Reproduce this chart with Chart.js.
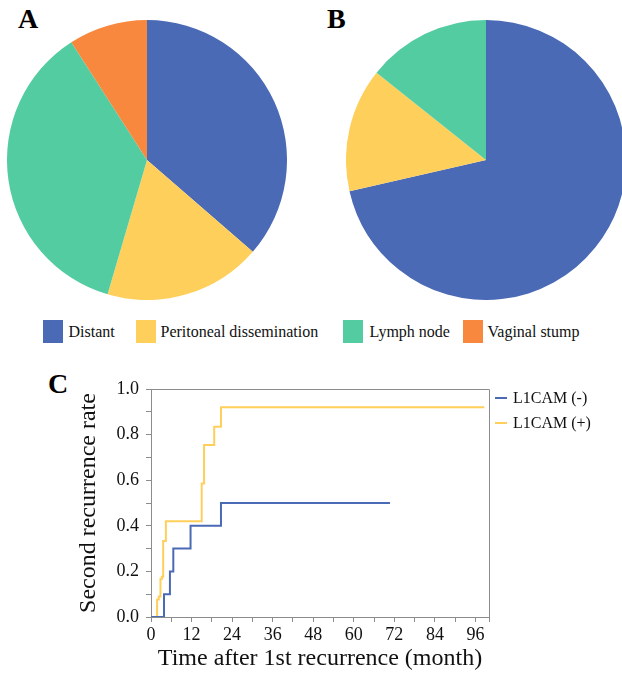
<!DOCTYPE html>
<html><head><meta charset="utf-8">
<script src="https://cdn.jsdelivr.net/npm/chart.js@4.4.1/dist/chart.umd.min.js"></script>
<style>
html,body{margin:0;padding:0;background:#fff;}
body{width:622px;height:676px;position:relative;overflow:hidden;font-family:"Liberation Serif","Times New Roman",serif;color:#000;}
.abs{position:absolute;}
.letter{font-weight:bold;font-size:28px;line-height:28px;}
.sw{position:absolute;width:20px;height:23px;}
.legt{position:absolute;font-family:"Liberation Serif","Times New Roman",serif;font-size:16px;line-height:23px;white-space:nowrap;color:#111;}
.lleg{position:absolute;font-family:"Liberation Serif","Times New Roman",serif;font-size:16px;line-height:20px;display:flex;align-items:center;white-space:nowrap;color:#111;}
.ln{width:12px;height:2px;margin-right:6px;}
</style></head><body>
<div class="abs letter" style="left:18px;top:5px;">A</div>
<div class="abs letter" style="left:327px;top:5px;">B</div>
<div class="abs letter" style="left:48px;top:370px;">C</div>
<div class="abs" style="left:7px;top:20px;width:280px;height:280px;"><canvas id="pieA" width="280" height="280"></canvas></div>
<div class="abs" style="left:346px;top:20px;width:280px;height:280px;"><canvas id="pieB" width="280" height="280"></canvas></div>
<div id="pieLegend"></div>
<div class="abs" style="left:0;top:370px;width:622px;height:306px;"><canvas id="km" width="622" height="306"></canvas></div>
<div id="kmLegend"></div>
<script>
// ---- data ----
const categories = ['Distant', 'Peritoneal dissemination', 'Lymph node', 'Vaginal stump'];
const countsA = [4, 2, 4, 1];
const countsB = [5, 1, 1, 0];
const sliceColors = ['#4a6ab5', '#ffcf5c', '#54cca1', '#f8883e'];

const seriesNames = ['L1CAM (-)', 'L1CAM (+)'];
const seriesColors = ['#4a6ab5', '#ffcf5c'];
const negTimes = [0, 3.85, 5.6, 6.6, 11.7, 20.7, 70.7];
const negRates = [0, 0.1, 0.2, 0.3, 0.4, 0.5, 0.5];
const posTimes = [0, 1.8, 2.3, 2.8, 3.2, 3.6, 4.4, 15.0, 15.7, 18.7, 20.7, 98.6];
const posRates = [0, 0.077, 0.09, 0.167, 0.176, 0.333, 0.42, 0.586, 0.754, 0.834, 0.92, 0.92];

const xTickLabels = [0, 12, 24, 36, 48, 60, 72, 84, 96];
const xMinorTicks = [6, 18, 30, 42, 54, 66, 78, 90, 100];
const yTickLabels = ['0.0', '0.2', '0.4', '0.6', '0.8', '1.0'];

// ---- pies ----
function pie(id, counts) {
  new Chart(document.getElementById(id), {
    type: 'pie',
    data: { labels: categories, datasets: [{ data: counts, backgroundColor: sliceColors, borderWidth: 0 }] },
    options: {
      responsive: false, animation: false, events: [],
      plugins: { legend: { display: false }, tooltip: { enabled: false } },
      layout: { padding: 0 }
    }
  });
}
pie('pieA', countsA);
pie('pieB', countsB);

// pie legend (HTML text)
const legSwLeft = [43, 136, 343, 463];
const legTextLeft = [68.5, 160.5, 369.5, 487.5];
const pl = document.getElementById('pieLegend');
categories.forEach((c, i) => {
  const s = document.createElement('div');
  s.className = 'sw';
  s.style.left = legSwLeft[i] + 'px';
  s.style.top = '319.5px';
  s.style.background = sliceColors[i];
  pl.appendChild(s);
  const t = document.createElement('div');
  t.className = 'legt';
  t.style.left = legTextLeft[i] + 'px';
  t.style.top = '319.5px';
  t.textContent = c;
  pl.appendChild(t);
});

// ---- KM chart ----
const toPts = (xs, ys) => xs.map((x, i) => ({ x: x, y: ys[i] }));
const frame = {
  id: 'frame',
  afterDraw(chart) {
    const { ctx, chartArea: a } = chart;
    ctx.save();
    ctx.strokeStyle = '#8c8c8c';
    ctx.lineWidth = 1;
    ctx.beginPath();
    ctx.moveTo(a.left, a.top + 0.5);
    ctx.lineTo(a.right + 0.5, a.top + 0.5);
    ctx.lineTo(a.right + 0.5, a.bottom);
    ctx.stroke();
    ctx.restore();
  }
};
const serif = '"Liberation Serif","Times New Roman",serif';
new Chart(document.getElementById('km'), {
  type: 'line',
  data: {
    datasets: [
      { label: seriesNames[0], data: toPts(negTimes, negRates), borderColor: seriesColors[0], backgroundColor: seriesColors[0], borderWidth: 2, pointRadius: 0, stepped: 'before', fill: false },
      { label: seriesNames[1], data: toPts(posTimes, posRates), borderColor: seriesColors[1], backgroundColor: seriesColors[1], borderWidth: 2, pointRadius: 0, stepped: 'before', fill: false }
    ]
  },
  options: {
    responsive: false, animation: false, events: [],
    layout: { padding: { left: 0, top: 19, right: 133, bottom: 0 } },
    plugins: { legend: { display: false }, tooltip: { enabled: false } },
    scales: {
      x: {
        type: 'linear', min: 0, max: 100,
        afterFit: s => { s.height = 59; },
        afterBuildTicks: s => {
          s.ticks = xTickLabels.concat(xMinorTicks).sort((a, b) => a - b).map(v => ({ value: v }));
        },
        border: { color: '#8c8c8c', width: 1 },
        grid: { drawOnChartArea: false, drawTicks: true, tickLength: 5, color: '#8c8c8c' },
        ticks: {
          autoSkip: false, maxRotation: 0, minRotation: 0, padding: 2,
          color: '#111', font: { family: serif, size: 18 },
          callback: v => xTickLabels.includes(v) ? String(v) : ''
        },
        title: { display: true, text: 'Time after 1st recurrence (month)', color: '#111', font: { family: serif, size: 24 }, padding: { top: 0, bottom: 3 } }
      },
      y: {
        min: 0, max: 1,
        afterFit: s => { s.width = 151; },
        border: { color: '#8c8c8c', width: 1 },
        grid: { drawOnChartArea: false, drawTicks: true, tickLength: 5, color: '#8c8c8c' },
        ticks: {
          stepSize: 0.1, autoSkip: false, padding: 7,
          color: '#111', font: { family: serif, size: 18 },
          callback: v => { const s = v.toFixed(1); return yTickLabels.includes(s) ? s : ''; }
        },
        title: { display: true, text: 'Second recurrence rate', color: '#111', font: { family: serif, size: 24 }, padding: { top: 74.6, bottom: 0 } }
      }
    }
  },
  plugins: [frame]
});

// KM legend (HTML text)
const kl = document.getElementById('kmLegend');
seriesNames.forEach((n, i) => {
  const d = document.createElement('div');
  d.className = 'lleg';
  d.style.left = '495px';
  d.style.top = (388 + i * 24.5) + 'px';
  d.innerHTML = '<div class="ln" style="background:' + seriesColors[i] + '"></div><span>' + n + '</span>';
  kl.appendChild(d);
});
</script>
</body></html>
